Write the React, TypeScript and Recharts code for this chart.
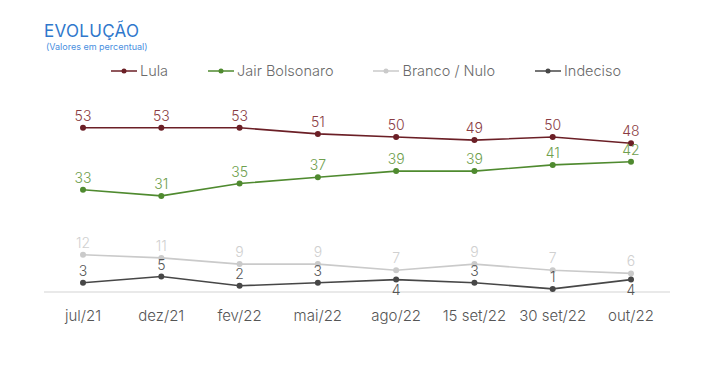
import React from "react";
import { LineChart, Line, XAxis, YAxis, LabelList } from "recharts";

const periods = ["jul/21", "dez/21", "fev/22", "mai/22", "ago/22", "15 set/22", "30 set/22", "out/22"];
const lula = [53, 53, 53, 51, 50, 49, 50, 48];
const bolsonaro = [33, 31, 35, 37, 39, 39, 41, 42];
const brancoNulo = [12, 11, 9, 9, 7, 9, 7, 6];
const indeciso = [3, 5, 2, 3, 4, 3, 1, 4];
// indeciso labels drawn below the point for these periods
const indecisoBelow = ["ago/22", "out/22"];

const data = periods.map((p, i) => ({
  periodo: p,
  lula: lula[i],
  bolsonaro: bolsonaro[i],
  branco: brancoNulo[i],
  indeciso: indeciso[i],
}));

const FONT = "Inter, 'Noto Sans', sans-serif";

const series = [
  { key: "lula", name: "Lula", stroke: "#6b1f26", label: "#8a3c43" },
  { key: "bolsonaro", name: "Jair Bolsonaro", stroke: "#4f8a2f", label: "#6fa04e" },
  { key: "branco", name: "Branco / Nulo", stroke: "#cacaca", label: "#d0d0d0" },
  { key: "indeciso", name: "Indeciso", stroke: "#474747", label: "#555" },
];

function makeLabel(color: string, key: string) {
  return (props: any) => {
    const { x, y, value, index } = props;
    const below = key === "indeciso" && indecisoBelow.includes(periods[index]);
    return (
      <text
        x={x}
        y={below ? y + 15 : y - 7}
        textAnchor="middle"
        fill={color}
        fontSize={14}
        fontFamily={FONT}
        fontWeight={300}
      >
        {value}
      </text>
    );
  };
}

function LegendRow() {
  return (
    <div
      style={{
        position: "absolute",
        top: 62,
        left: 111,
        display: "flex",
        gap: 40,
        fontFamily: FONT,
        fontWeight: 300,
      }}
    >
      {series.map((s) => (
        <div key={s.key} style={{ display: "flex", alignItems: "center", gap: 3 }}>
          <svg width={26} height={10}>
            <line x1={0} y1={5} x2={26} y2={5} stroke={s.stroke} strokeWidth={1.5} />
            <circle cx={13} cy={5} r={2.5} fill={s.stroke} />
          </svg>
          <span style={{ fontSize: 14.5, color: "#6a6a6a" }}>{s.name}</span>
        </div>
      ))}
    </div>
  );
}

export default function App() {
  return (
    <div style={{ position: "fixed", left: 0, top: 0, width: 717, height: 369, background: "#fff" }}>
      <div
        style={{
          position: "absolute",
          left: 44,
          top: 21,
          fontFamily: FONT,
          fontSize: 17,
          color: "#2f78cc",
          letterSpacing: 0.3,
        }}
      >
        EVOLUÇÃO
      </div>
      <div
        style={{
          position: "absolute",
          left: 46,
          top: 41,
          fontFamily: FONT,
          fontSize: 9,
          color: "#4a8fe0",
        }}
      >
        (Valores em percentual)
      </div>
      <LegendRow />
      <LineChart width={717} height={369} data={data} margin={{ top: 106, right: 47, bottom: 37, left: 44 }}>
        <XAxis
          dataKey="periodo"
          axisLine={{ stroke: "#d4d4d4", strokeWidth: 1.2 }}
          tickLine={false}
          height={40}
          padding={{ left: 39, right: 39 }}
          tick={{ fill: "#555", fontSize: 15, fontFamily: FONT, fontWeight: 300 }}
          dy={10}
          interval={0}
        />
        <YAxis hide domain={[0, 60]} />
        {series.map((s) => (
          <Line
            key={s.key}
            dataKey={s.key}
            name={s.name}
            type="linear"
            stroke={s.stroke}
            strokeWidth={1.6}
            dot={{ r: 3, fill: s.stroke, stroke: s.stroke, strokeWidth: 0 }}
            activeDot={false}
            isAnimationActive={false}
          >
            <LabelList dataKey={s.key} content={makeLabel(s.label, s.key)} />
          </Line>
        ))}
      </LineChart>
    </div>
  );
}
